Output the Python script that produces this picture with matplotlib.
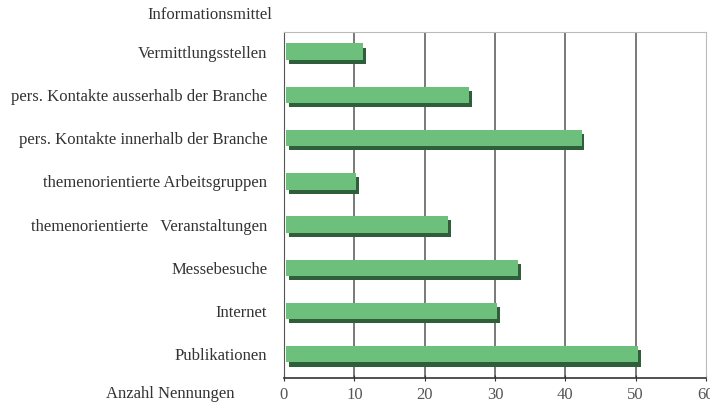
import matplotlib.pyplot as plt
import matplotlib.patheffects as pe

plt.rcParams['font.family'] = ['Liberation Serif', 'DejaVu Serif']

# categories bottom -> top
categories = ["Publikationen", "Internet", "Messebesuche",
              "themenorientierte   Veranstaltungen",
              "themenorientierte Arbeitsgruppen",
              "pers. Kontakte innerhalb der Branche",
              "pers. Kontakte ausserhalb der Branche",
              "Vermittlungsstellen"]
values = [50, 30, 33, 23, 10, 42, 26, 11]
x_ticks = [0, 10, 20, 30, 40, 50, 60]

fig = plt.figure(figsize=(7.1, 4.07), dpi=100)
ax = fig.add_axes([0.4, 0.0713, 0.5944, 0.8497])

bars = ax.barh(range(len(values)), values, height=0.38, left=0.3,
               color="#6cc07c", zorder=3)
for b in bars:
    b.set_path_effects([pe.SimplePatchShadow(offset=(2, -3), shadow_rgbFace="#2f5e3a", alpha=1.0),
                        pe.Normal()])

ax.set_xlim(0, 60)
ax.set_ylim(-0.55, 7.45)
ax.set_xticks(x_ticks)
ax.set_yticks(range(len(categories)))
ax.set_yticklabels(categories, fontsize=12, color="#333333")
ax.tick_params(axis="y", length=0, pad=12)
ax.tick_params(axis="x", direction="inout", length=5, labelsize=12,
               labelcolor="#555555", pad=4, color="#333333")

for v in x_ticks[1:-1]:
    ax.axvline(v, color="#555555", lw=1.1, zorder=1)

ax.spines["left"].set_color("#555555")
ax.spines["bottom"].set_color("#333333")
ax.spines["bottom"].set_linewidth(1.2)
ax.spines["top"].set_color("#bbbbbb")
ax.spines["right"].set_color("#bbbbbb")

fig.text(272 / 710, 1 - 15 / 407, "Informationsmittel", ha="right", va="center",
         fontsize=12, color="#333333")
fig.text(235 / 710, 1 - 394 / 407, "Anzahl Nennungen", ha="right", va="center",
         fontsize=12, color="#333333")

fig.savefig("out.png", dpi=100)
